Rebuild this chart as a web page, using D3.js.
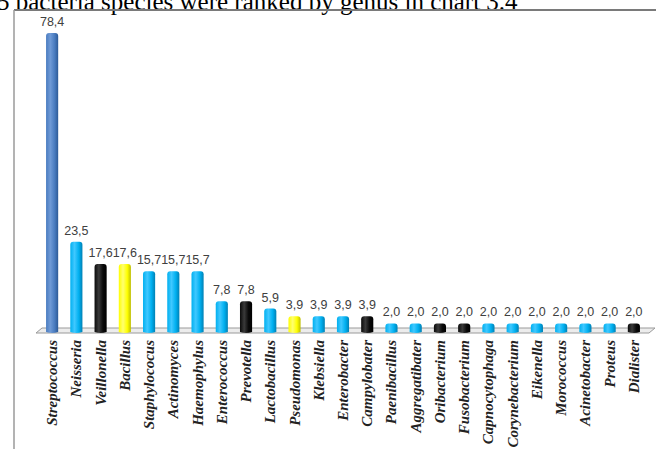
<!DOCTYPE html>
<html><head><meta charset="utf-8">
<script src="https://cdn.jsdelivr.net/npm/d3@7/dist/d3.min.js"></script>
<style>html,body{margin:0;padding:0;background:#fff;overflow:hidden}</style>
</head><body>
<svg id="c" width="656" height="449"></svg>
<script>
const categories = ["Streptococcus","Neisseria","Veillonella","Bacillus","Staphylococus","Actinomyces","Haemophylus","Enterococcus","Prevotella","Lactobacillus","Pseudomonas","Klebsiella","Enterobacter","Campylobater","Paenibacillus","Aggregatibater","Oribacterium","Fusobacterium","Capnocytophaga","Corynebacterium","Eikenella","Morococcus","Acinetobacter","Proteus","Dialister"];
const values = [78.4,23.5,17.6,17.6,15.7,15.7,15.7,7.8,7.8,5.9,3.9,3.9,3.9,3.9,2.0,2.0,2.0,2.0,2.0,2.0,2.0,2.0,2.0,2.0,2.0];
const colorGroups = ["blue","cyan","black","yellow","cyan","cyan","cyan","cyan","black","cyan","yellow","cyan","cyan","black","cyan","cyan","black","black","cyan","cyan","cyan","cyan","cyan","cyan","black"];
const titleText = "5 bacteria species were ranked by genus in chart 3.4";

const palette = {
  blue:   {light:"#6f9ad6", mid:"#4a7cc0", dark:"#2d5a96"},
  cyan:   {light:"#40c8ff", mid:"#00b0f0", dark:"#0080b4"},
  black:  {light:"#3a3a3a", mid:"#0a0a0a", dark:"#000000"},
  yellow: {light:"#ffff70", mid:"#ffff00", dark:"#bdbd00"}
};

const svg = d3.select("#c");
const defs = svg.append("defs");
Object.entries(palette).forEach(([k,c])=>{
  const g = defs.append("linearGradient").attr("id","g-"+k).attr("x1","0").attr("x2","1").attr("y1","0").attr("y2","0");
  g.append("stop").attr("offset","0").attr("stop-color",c.mid);
  g.append("stop").attr("offset","0.35").attr("stop-color",c.light);
  g.append("stop").attr("offset","0.7").attr("stop-color",c.mid);
  g.append("stop").attr("offset","1").attr("stop-color",c.dark);
});

// title (partially clipped at top, as in the reference)
svg.append("text").attr("x",-3).attr("y",10)
  .attr("font-family","Liberation Serif, Times New Roman, serif").attr("font-size",25)
  .attr("fill","#000").text(titleText);

// frame
svg.append("line").attr("x1",14).attr("x2",656).attr("y1",10).attr("y2",10).attr("stroke","#7a7a7a").attr("stroke-width",2);
svg.append("line").attr("x1",14).attr("x2",14).attr("y1",10).attr("y2",449).attr("stroke","#9a9a9a").attr("stroke-width",1.5);

const x = d3.scaleBand().domain(categories).range([40,646]).paddingInner(0.5).paddingOuter(0.25);
const y = d3.scaleLinear().domain([0,80]).range([331,27]);

// floor
const fl = 36, fr = 649, fy = y(0)+2;
svg.append("path").attr("d",`M${fl},${fy} L${fr},${fy} L${fr+6},${fy-5} L${fl+6},${fy-5} Z`)
  .attr("fill","#ececec").attr("stroke","#9a9a9a").attr("stroke-width",1);

const data = categories.map((c,i)=>({c, v:values[i], g:colorGroups[i]}));

// bars
const bw = x.bandwidth();
svg.append("g").selectAll("path").data(data).join("path")
  .attr("d", d=>{
    const x0 = x(d.c), x1 = x0+bw, yt = y(d.v), yb = y(0)+1, r = 3;
    return `M${x0},${yb} L${x0},${yt+r} Q${x0},${yt} ${x0+r},${yt} L${x1-r},${yt} Q${x1},${yt} ${x1},${yt+r} L${x1},${yb} Q${(x0+x1)/2},${yb+2} ${x0},${yb} Z`;
  })
  .attr("fill", d=>`url(#g-${d.g})`);

// value labels
const fmt = v => v.toFixed(1).replace(".", ",");
svg.append("g").selectAll("text").data(data).join("text")
  .attr("x", d=>x(d.c)+bw/2).attr("y", d=>y(d.v)-7)
  .attr("text-anchor","middle")
  .attr("font-family","Liberation Sans, Arial, sans-serif").attr("font-size",12.5)
  .attr("fill","#404040").text(d=>fmt(d.v));

// category labels
svg.append("g").selectAll("text").data(data).join("text")
  .attr("transform", d=>`translate(${x(d.c)+bw/2+5},340) rotate(-90)`)
  .attr("text-anchor","end")
  .attr("font-family","Liberation Serif, Times New Roman, serif").attr("font-size",15)
  .attr("font-style","italic").attr("font-weight","bold")
  .attr("fill","#222").text(d=>d.c);
</script>
</body></html>
